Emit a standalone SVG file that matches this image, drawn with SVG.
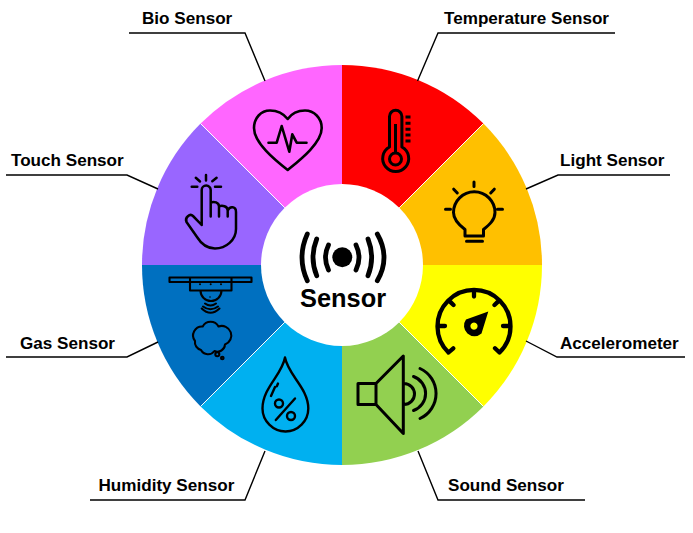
<svg xmlns="http://www.w3.org/2000/svg" width="693" height="533" viewBox="0 0 693 533">
<style>
.lbl{font-family:"Liberation Sans",Arial,sans-serif;font-weight:700;font-size:17.1px;fill:#000}
.ic{fill:none;stroke:#000;stroke-width:3;stroke-linecap:round;stroke-linejoin:round}
.th{stroke-width:2.1}
.lead{fill:none;stroke:#000;stroke-width:1.4}
.sep{stroke:#fff;stroke-width:1}
</style>
<rect width="693" height="533" fill="#fff"/>
<g id="node-temperature">
<path d="M342,265V65A200,200 0 0 1 483.42,123.58Z" fill="#f00"/>
<path class="ic" d="M389.5,147V116.5a6.2,6.2 0 0 1 12.4,0V147a13,13 0 1 1 -12.4,0Z"/>
<circle class="ic" cx="395.5" cy="159" r="6"/>
<path class="ic" d="M395.500,153V124M405.500,117h5M405.500,123.300h5M405.500,129.200h5M405.500,135h5M405.500,141h5" style="stroke-linecap:butt"/>
<text class="lbl" x="444" y="24">Temperature Sensor</text>
</g>
<g id="node-light">
<path d="M342,265L483.42,123.58A200,200 0 0 1 542,265Z" fill="#ffc000"/>
<path class="ic" d="M465,236V229.5C459,225 453.5,220 453.5,212.5A20.7,20.7 0 0 1 495,212.5C495,220 489,225 483.5,229.5V236ZM466.5,241.3H482.5M474,182V186.5M453.7,189.2L457.3,193M494.3,189.2L490.7,193M445.5,209.3H450.5M497.5,209.3H502.5"/>
<text class="lbl" x="560" y="166">Light Sensor</text>
</g>
<g id="node-accelerometer">
<path d="M342,265H542A200,200 0 0 1 483.42,406.42Z" fill="#ff0"/>
<path class="ic" style="stroke-width:4.300" d="M448.5,352.5A36.5,36.5 0 1 1 499.5,352.5M448.5,352.5L453.3,348.3M499.5,352.5L495,348.3M474,291.7V296.5M450.3,301.9L453.5,305M497.7,301.9L494.5,305M440,326H445M503,326H508"/>
<path fill-rule="evenodd" d="M488.300,311.500L481.500,333.500A10.500,10.500 0 0 1 466,319.500ZM474,322.500A3.600,3.600 0 1 0 474.001,322.500Z"/>
<text class="lbl" x="560" y="349">Accelerometer</text>
</g>
<g id="node-sound">
<path d="M342,265L483.42,406.42A200,200 0 0 1 342,465Z" fill="#92d050"/>
<path class="ic" d="M376,383.500H358V404.500H376ZM376,383.500L403.300,356V433.500L376,404.500M404,383.500A10.500,10.500 0 0 1 404,404.500M413.500,376.500A18,18 0 0 1 413.500,410.500M420,368.500A27.500,27.500 0 0 1 420,418.500"/>
<text class="lbl" x="448" y="491">Sound Sensor</text>
</g>
<g id="node-humidity">
<path d="M342,265V465A200,200 0 0 1 200.58,406.42Z" fill="#00b0f0"/>
<path class="ic" d="M285,357.500C282,375 262.500,388 262.500,408.500C262.500,421 273,431.500 285.500,431.500C298,431.500 308.300,421 308.300,408.500C308.300,388 288,375 285,357.500ZM278,383.500L276.800,386.300M275,387L271,396M295,398.500L275.800,420" style="stroke-width:2.400"/>
<circle class="ic" style="stroke-width:2.400" cx="279" cy="403.500" r="4"/>
<circle class="ic" style="stroke-width:2.400" cx="291" cy="416" r="4"/>
<text class="lbl" x="98.500" y="491">Humidity Sensor</text>
</g>
<g id="node-gas">
<path d="M342,265L200.58,406.42A200,200 0 0 1 142,265Z" fill="#0070c0"/>
<path class="ic th" d="M169.500,277.500H251.500V282H169.500ZM190,278V290.500H231.500V278M200.500,290.500A10.500,10.500 0 0 0 221.500,290.500M205,303.500Q210.500,307.500 216,303.500M203,306.500Q210.500,312 218,306.500M201.700,308.500Q210.500,317 219.500,308.500M202.700,326.500A9,9 0 0 1 218.500,326.500A9.500,9.500 0 0 1 225,344.500A7.500,7.500 0 0 1 214.500,351A8,8 0 0 1 201,350A8,8 0 0 1 195,341A9,9 0 0 1 202.700,326.500Z" />
<circle cx="200" cy="284.300" r="1"/><circle cx="210.700" cy="284.300" r="1"/><circle cx="221" cy="284.300" r="1"/><circle cx="210" cy="297" r="0.800"/>
<circle class="ic th" cx="217.300" cy="354.300" r="2"/>
<circle class="ic th" cx="222.300" cy="358" r="1.300"/>
<text class="lbl" x="20" y="349">Gas Sensor</text>
</g>
<g id="node-touch">
<path d="M342,265H142A200,200 0 0 1 200.58,123.58Z" fill="#96f"/>
<path class="ic" style="stroke-width:2.500" d="M201.700,225V190a4.500,4.500 0 0 1 9,0V216.500M210.700,202.500C214,201 219,202.500 219,206.500V216.500M219,206.500C222,205 227.700,206 227.700,210.500V216.500M227.700,210.500C230,205.500 236,206.500 236,212V229C236,240 226,248.500 215,248.500C207,248.500 201,243.500 197,237L186.500,222C184.500,217.500 190,213 193,216L201.700,225M206,175V180.500M195.800,177.800L200,181.500M216.600,177.800L212.300,181.200M191.700,186.700H197.300M215,186.700H221"/>
<text class="lbl" x="11" y="166">Touch Sensor</text>
</g>
<g id="node-bio">
<path d="M342,265L200.58,123.58A200,200 0 0 1 342,65Z" fill="#f6f"/>
<path class="ic" style="stroke-width:2.600" d="M287.700,119C283,113 276,110.500 270,110.500C261,110.500 254,118 254,128C254,143 275,160 287.700,170C300,160 321.700,143 321.700,128C321.700,118 314,110.500 305,110.500C299,110.500 292,113 287.700,119ZM268.500,142.700H276.700L281.700,126L289.300,151.700L292.300,134.300L296.700,142.700H306.500"/>
<text class="lbl" x="142" y="24">Bio Sensor</text>
</g>
<g id="separators">
<path class="sep" d="M399.280,207.720L483.420,123.580M399.280,322.280L483.420,406.420M284.720,322.280L200.580,406.420M284.720,207.720L200.580,123.580"/>
</g>
<g id="node-center">
<circle cx="342" cy="265" r="81" fill="#fff"/>
<circle cx="342.300" cy="257.300" r="10"/>
<path d="M328.500,245Q322.500,257.500 328.500,270M356,245Q362,257.500 356,270M316.700,239Q309.300,257.500 316.700,275.700M368,239Q375.300,257.500 368,275.700M307.300,234Q296.700,257.500 307.300,280.700M377.300,234Q390.700,257.500 377.300,280.700" fill="none" stroke="#000" stroke-width="4.800" stroke-linecap="round"/>
<text x="300" y="306.500" style="font-family:'Liberation Sans',Arial,sans-serif;font-weight:700;font-size:25.400px">Sensor</text>
</g>
<g id="connectors">
<path class="lead" d="M417.500,81L438,33H615M526,189L558,175H670M526,341L557,357H685M418,451L438,500H585M265,451L245,500H90M158,342L127,357H6M158,189L127,175H6M265,81L245,33H129"/>
</g>
</svg>
